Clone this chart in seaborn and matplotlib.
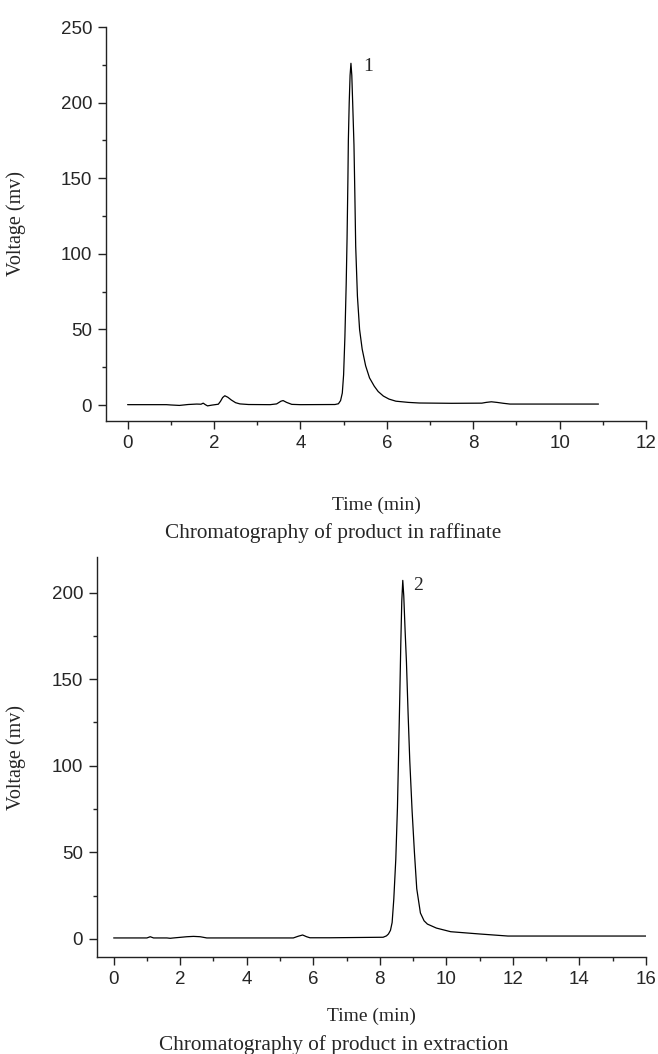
import pandas as pd
import seaborn as sns
import matplotlib.pyplot as plt
from matplotlib.ticker import MultipleLocator

# Raffinate chromatogram
raff_time = [0.0, 0.9, 1.0, 1.2, 1.4, 1.6, 1.7, 1.75, 1.8, 1.85, 1.95, 2.1, 2.15, 2.2, 2.25,
             2.32, 2.4, 2.5, 2.6, 2.8, 3.3, 3.45, 3.55, 3.6, 3.68, 3.8, 4.0, 4.8, 4.88, 4.93,
             4.97, 5.0, 5.03, 5.06, 5.08, 5.1, 5.11, 5.13, 5.15, 5.17, 5.19, 5.21, 5.24, 5.26,
             5.28, 5.32, 5.37, 5.43, 5.51, 5.6, 5.71, 5.8, 5.92, 6.05, 6.21, 6.5, 6.75, 7.5,
             8.2, 8.3, 8.42, 8.55, 8.7, 8.85, 10.9]
raff_volt = [0.3, 0.3, 0.1, -0.2, 0.4, 0.7, 0.6, 1.3, 0.3, -0.5, 0.0, 0.6, 2.5, 5.0, 6.2,
             5.2, 3.4, 1.6, 0.8, 0.4, 0.3, 0.8, 2.6, 3.0, 1.8, 0.5, 0.3, 0.4, 0.9, 3.0,
             8.0, 20, 45, 80, 110, 150, 175, 200, 218, 226, 218, 200, 172, 140,
             105, 72, 50, 37, 26, 18, 12.5, 9, 6, 4, 2.6, 1.8, 1.4, 1.2,
             1.3, 1.8, 2.2, 1.8, 1.2, 0.7, 0.7]

# Extraction chromatogram
ext_time = [0.0, 1.0, 1.1, 1.2, 1.6, 1.7, 1.8, 2.2, 2.4, 2.6, 2.8, 5.4, 5.55, 5.68, 5.8,
            5.9, 6.5, 8.1, 8.2, 8.26, 8.32, 8.37, 8.42, 8.48, 8.53, 8.56, 8.6, 8.63, 8.66,
            8.69, 8.72, 8.76, 8.8, 8.85, 8.9, 8.97, 9.04, 9.11, 9.22, 9.33, 9.43, 9.7,
            10.13, 10.99, 11.85, 16.0]
ext_volt = [0.6, 0.6, 1.3, 0.6, 0.6, 0.4, 0.6, 1.3, 1.5, 1.3, 0.6, 0.6, 1.6, 2.3, 1.3,
            0.7, 0.7, 1.0, 1.8, 2.9, 5.0, 9.5, 23, 46, 76, 103, 140, 170, 195,
            207, 198, 178, 160, 130, 103, 74, 50, 29, 15, 10.5, 8.6, 6.3,
            4.2, 2.9, 1.7, 1.7]

raff = pd.DataFrame({"Time": raff_time, "Voltage": raff_volt})
ext = pd.DataFrame({"Time": ext_time, "Voltage": ext_volt})

sns.set_theme(style="ticks")
plt.rcParams["font.family"] = ["Liberation Sans", "DejaVu Sans"]
serif = ["Liberation Serif", "DejaVu Serif"]

fig = plt.figure(figsize=(6.58, 10.54), dpi=100)
W, H = 658, 1054
ax1 = fig.add_axes([106 / W, 1 - 421 / H, (646 - 106) / W, (421 - 27) / H])
ax2 = fig.add_axes([97 / W, 1 - 957 / H, (646 - 97) / W, (957 - 557) / H])

sns.lineplot(x="Time", y="Voltage", data=raff, ax=ax1, color="black", linewidth=0.9)
sns.lineplot(x="Time", y="Voltage", data=ext, ax=ax2, color="black", linewidth=0.9)

ax1.set_xlim(-0.5, 12)
ax1.set_ylim(-10.5, 250)
ax2.set_xlim(-0.5, 16)
ax2.set_ylim(-10.4, 220.5)

for ax in (ax1, ax2):
    ax.xaxis.set_major_locator(MultipleLocator(2))
    ax.xaxis.set_minor_locator(MultipleLocator(1))
    ax.yaxis.set_major_locator(MultipleLocator(50))
    ax.yaxis.set_minor_locator(MultipleLocator(25))
    sns.despine(ax=ax)
    for s in ("left", "bottom"):
        ax.spines[s].set_color("#222222")
        ax.spines[s].set_linewidth(1.0)
    ax.tick_params(which="major", direction="out", length=6, width=1, color="#222222",
                   labelsize=13.5, pad=4)
    ax.tick_params(which="minor", direction="out", length=3, width=1, color="#222222")
    ax.set_xlabel("Time (min)", fontsize=14, family=serif)
    ax.set_ylabel("Voltage (mv)", fontsize=14.5, family=serif)

ax1.xaxis.set_label_coords(0.5, -0.193)
ax1.yaxis.set_label_coords(-0.148, 0.5)
ax2.xaxis.set_label_coords(0.5, -0.1275)
ax2.yaxis.set_label_coords(-0.1295, 0.5)

ax1.text(5.45, 224, "1", fontsize=14, family=serif, va="center", ha="left")
ax2.text(9.0, 204, "2", fontsize=14, family=serif, va="center", ha="left")

fig.text(0.507, 1 - 533 / H, "Chromatography of product in raffinate",
         fontsize=15.3, family=serif, ha="center", va="center")
fig.text(0.507, 1 - 1045 / H, "Chromatography of product in extraction",
         fontsize=15.3, family=serif, ha="center", va="center")

fig.savefig("out.png", dpi=100)
